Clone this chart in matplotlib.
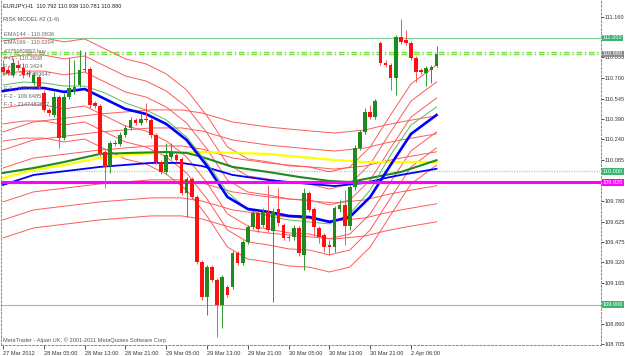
import matplotlib
matplotlib.use("Agg")
import matplotlib.pyplot as plt
import matplotlib.transforms as mtransforms
import numpy as np

plt.rcParams['font.family'] = ['Liberation Sans', 'DejaVu Sans']

# ---- data (EURJPY H1) ----
opens = [110.783, 110.760, 110.723, 110.798, 110.775, 110.730, 110.663, 110.708, 110.588, 110.461,
         110.423, 110.558, 110.251, 110.558, 110.596, 110.648, 110.760, 110.768, 110.513, 110.491,
         110.146, 110.049, 110.213, 110.206, 110.273, 110.326, 110.386, 110.363, 110.393, 110.386,
         110.273, 110.071, 109.996, 110.109, 110.124, 110.094, 109.839, 109.944, 109.809, 109.322,
         109.060, 109.285, 109.187, 109.000, 109.135, 109.135, 109.390, 109.315, 109.472, 109.584,
         109.689, 109.599, 109.697, 109.554, 109.719, 109.599, 109.509, 109.509, 109.577, 109.375,
         109.839, 109.719, 109.577, 109.524, 109.449, 109.434, 109.719, 109.749, 109.592, 109.884,
         110.176, 110.296, 110.446, 110.408, 110.963, 110.813, 110.798, 110.700, 111.007, 110.985,
         110.963, 110.850, 110.760, 110.738, 110.760, 110.792]
highs = [110.835, 110.790, 110.850, 110.835, 110.813, 110.760, 110.745, 110.723, 110.610, 110.476,
         110.596, 110.573, 110.588, 110.850, 110.835, 110.910, 110.895, 110.783, 110.528, 110.506,
         110.161, 110.228, 110.236, 110.296, 110.348, 110.408, 110.401, 110.438, 110.513, 110.401,
         110.288, 110.086, 110.213, 110.213, 110.139, 110.109, 109.959, 109.959, 109.824, 109.337,
         109.300, 109.300, 109.202, 109.225, 109.150, 109.404, 109.404, 109.487, 109.599, 109.704,
         109.704, 109.727, 109.899, 109.727, 109.876, 109.614, 109.532, 109.599, 109.592, 109.876,
         109.854, 109.734, 109.592, 109.539, 109.487, 109.742, 109.787, 109.861, 109.899, 110.199,
         110.311, 110.476, 110.498, 110.543, 110.978, 110.835, 110.813, 111.022, 111.142, 111.060,
         110.978, 110.865, 110.775, 110.790, 110.798, 110.939]
lows = [110.723, 110.723, 110.708, 110.760, 110.700, 110.708, 110.648, 110.618, 110.446, 110.416,
        110.408, 110.176, 110.236, 110.543, 110.581, 110.633, 110.745, 110.476, 110.476, 110.116,
        109.876, 109.989, 110.191, 110.191, 110.258, 110.311, 110.348, 110.348, 110.371, 110.251,
        110.056, 109.981, 109.981, 110.094, 110.071, 109.824, 109.659, 109.794, 109.307, 109.037,
        108.925, 109.172, 108.760, 108.828, 109.060, 109.120, 109.300, 109.300, 109.457, 109.569,
        109.547, 109.584, 109.547, 109.022, 109.592, 109.487, 109.479, 109.487, 109.367, 109.262,
        109.697, 109.517, 109.464, 109.397, 109.375, 109.397, 109.697, 109.449, 109.562, 109.861,
        110.161, 110.281, 110.393, 110.393, 110.798, 110.783, 110.610, 110.573, 110.955, 110.948,
        110.835, 110.670, 110.730, 110.640, 110.663, 110.781]
closes = [110.745, 110.738, 110.813, 110.775, 110.723, 110.738, 110.723, 110.633, 110.461, 110.438,
          110.558, 110.251, 110.558, 110.625, 110.633, 110.760, 110.768, 110.498, 110.491, 110.139,
          110.034, 110.213, 110.206, 110.273, 110.326, 110.386, 110.363, 110.393, 110.386, 110.273,
          110.071, 109.996, 110.124, 110.139, 110.086, 109.839, 109.944, 109.809, 109.322, 109.060,
          109.285, 109.187, 109.000, 109.210, 109.075, 109.390, 109.315, 109.472, 109.584, 109.689,
          109.569, 109.697, 109.562, 109.697, 109.614, 109.502, 109.502, 109.577, 109.390, 109.839,
          109.712, 109.584, 109.509, 109.434, 109.434, 109.727, 109.749, 109.592, 109.884, 110.176,
          110.296, 110.446, 110.408, 110.528, 110.813, 110.798, 110.700, 111.007, 110.970, 110.963,
          110.850, 110.745, 110.745, 110.775, 110.783, 110.880]

# moving averages, read at bar positions
fast_idx = [0, 4, 8, 12, 16, 20, 24, 28, 32, 36, 40, 44, 48, 52, 56, 60, 64, 68, 72, 76, 80, 85]
fast_ma = [110.603, 110.625, 110.625, 110.596, 110.618, 110.543, 110.468, 110.431, 110.356, 110.236,
           110.041, 109.809, 109.719, 109.697, 109.667, 109.659, 109.622, 109.659, 109.809, 110.049,
           110.281, 110.423]
fast2_ma = [110.648, 110.670, 110.663, 110.640, 110.640, 110.588, 110.513, 110.461, 110.386, 110.258,
            110.064, 109.846, 109.712, 109.667, 109.637, 109.622, 109.607, 109.682, 109.861, 110.124,
            110.348, 110.483]
ema144_idx = [0, 6, 12, 19, 25, 32, 36, 39, 45, 52, 58, 64, 68, 72, 78, 85]
ema144 = [109.989, 110.026, 110.071, 110.131, 110.139, 110.146, 110.139, 110.109, 110.034, 109.996,
          109.959, 109.929, 109.921, 109.951, 109.996, 110.084]
ema169_idx = [0, 6, 19, 29, 35, 39, 45, 52, 58, 65, 71, 75, 78, 85]
ema169 = [109.899, 109.974, 110.034, 110.064, 110.064, 110.041, 109.974, 109.936, 109.914, 109.891,
          109.914, 109.951, 109.974, 110.020]
yellow_idx = [0, 6, 12, 19, 26, 32, 39, 45, 52, 58, 65, 71, 78, 85]
yellow_ma = [109.951, 110.011, 110.049, 110.101, 110.131, 110.139, 110.146, 110.139, 110.131, 110.109,
             110.086, 110.071, 110.071, 110.071]

# red envelope lines around the fast average (same bar positions as fast_idx)
fast_env = [
    [110.978, 111.000, 111.000, 110.971, 110.993, 110.918, 110.843, 110.806, 110.731, 110.611, 110.416,
     110.184, 110.094, 110.072, 110.042, 110.034, 109.997, 110.034, 110.184, 110.424, 110.656, 110.798],
    [110.850, 110.872, 110.872, 110.843, 110.865, 110.790, 110.715, 110.678, 110.603, 110.483, 110.288,
     110.056, 109.966, 109.944, 109.914, 109.906, 109.869, 109.906, 110.056, 110.296, 110.528, 110.670],
    [110.730, 110.752, 110.752, 110.723, 110.745, 110.670, 110.595, 110.558, 110.483, 110.363, 110.168,
     109.936, 109.846, 109.824, 109.794, 109.786, 109.749, 109.786, 109.936, 110.176, 110.408, 110.550],
    [110.476, 110.498, 110.498, 110.469, 110.491, 110.416, 110.341, 110.304, 110.229, 110.109, 109.914,
     109.682, 109.592, 109.570, 109.540, 109.532, 109.495, 109.532, 109.682, 109.922, 110.154, 110.296],
    [110.356, 110.378, 110.378, 110.349, 110.371, 110.296, 110.221, 110.184, 110.109, 109.989, 109.794,
     109.562, 109.472, 109.450, 109.420, 109.412, 109.375, 109.412, 109.562, 109.802, 110.034, 110.176],
    [110.228, 110.250, 110.250, 110.221, 110.243, 110.168, 110.093, 110.056, 109.981, 109.861, 109.666,
     109.434, 109.344, 109.322, 109.292, 109.284, 109.247, 109.284, 109.434, 109.674, 109.906, 110.048],
]
# red envelope lines around the slow average (same bar positions as ema169_idx)
slow_env = [
    [110.296, 110.371, 110.431, 110.461, 110.461, 110.438, 110.371, 110.333, 110.311, 110.288, 110.311,
     110.348, 110.371, 110.417],
    [110.161, 110.236, 110.296, 110.326, 110.326, 110.303, 110.236, 110.198, 110.176, 110.153, 110.176,
     110.213, 110.236, 110.282],
    [110.026, 110.101, 110.161, 110.191, 110.191, 110.168, 110.101, 110.063, 110.041, 110.018, 110.041,
     110.078, 110.101, 110.147],
    [109.772, 109.847, 109.907, 109.937, 109.937, 109.914, 109.847, 109.809, 109.787, 109.764, 109.787,
     109.824, 109.847, 109.893],
    [109.637, 109.712, 109.772, 109.802, 109.802, 109.779, 109.712, 109.674, 109.652, 109.629, 109.652,
     109.689, 109.712, 109.758],
    [109.502, 109.577, 109.637, 109.667, 109.667, 109.644, 109.577, 109.539, 109.517, 109.494, 109.517,
     109.554, 109.577, 109.623],
]

level_lines = [111.000, 109.000]
level_dotted = 110.000
magenta_level = 109.920
dashdot_levels = [110.897, 110.878]
bid = 110.880

price_ticks = [111.160, 110.855, 110.700, 110.545, 110.390, 110.240, 110.085, 109.780, 109.625,
               109.475, 109.320, 109.165, 108.860, 108.705]
time_ticks = [0, 8, 16, 24, 32, 40, 48, 56, 64, 72, 80]
time_labels = ["27 Mar 2012", "28 Mar 05:00", "28 Mar 13:00", "28 Mar 21:00", "29 Mar 05:00",
               "29 Mar 13:00", "29 Mar 21:00", "30 Mar 05:00", "30 Mar 13:00", "30 Mar 21:00",
               "2 Apr 06:00"]
legend_lines = ["EMA144 - 110.0836", "EMA169 - 110.0204", "#275083852 buy",
                "F+1 - 110.2638", "F+2 - 110.3424", "F+3 - 2147483647",
                "F-1 - 109.4839", "F-2 - 109.6485", "F-3 - 2147483647"]

W, H = 625, 356
FS = 4.1
fig = plt.figure(figsize=(W / 100, H / 100), dpi=100)
ax = fig.add_axes([1.5 / W, 11 / H, 599.5 / W, 344 / H])
ax.set_xlim(-0.294, 117.25)
ax.set_ylim(108.700, 111.277)

# horizontal levels
for lv in level_lines:
    ax.axhline(lv, color='#7fcf98', lw=0.8, zorder=1)
ax.axhline(level_dotted, color='#9fd8b0', lw=0.9, ls=(0, (1, 1)), zorder=1)
for lv in dashdot_levels:
    ax.axhline(lv, color='#77dd44', lw=1.0, ls=(0, (4, 2, 1, 2)), zorder=1)

# envelopes
for env in fast_env:
    ax.plot(fast_idx, env, color='#ff5a5a', lw=0.7, zorder=2)
for env in slow_env:
    ax.plot(ema169_idx, env, color='#ff5a5a', lw=0.7, zorder=2)

ax.axhline(magenta_level, color='#ff00ff', lw=2.2, zorder=4)

# moving averages
ax.plot(yellow_idx, yellow_ma, color='#ffff00', lw=1.6, zorder=3)
ax.plot(ema144_idx, ema144, color='#1f8a1f', lw=1.5, zorder=3)
ax.plot(ema169_idx, ema169, color='#0000ff', lw=1.3, zorder=3)
ax.plot(fast_idx, fast2_ma, color='#5cb85c', lw=0.7, zorder=3)
ax.plot(fast_idx, fast_ma, color='#0000ff', lw=1.9, zorder=3)

# candles
o = np.array(opens); c = np.array(closes)
idx = np.arange(len(o))
up = c >= o
col = np.where(up, '#1f8a1f', '#ff1010')
wick = np.where(up, '#2f9a2f', '#ff5050')
ax.vlines(idx, lows, highs, colors=wick, lw=0.7, zorder=5)
body = np.maximum(np.abs(c - o), 0.006)
ax.bar(idx, body, bottom=np.minimum(o, c), width=0.72, color=col, lw=0, zorder=6)

# frame and axes
for s in ['left', 'right', 'bottom']:
    ax.spines[s].set_linestyle((0, (2, 2)))
    ax.spines[s].set_color('#888888')
    ax.spines[s].set_linewidth(0.7)
ax.spines['top'].set_visible(False)
ax.yaxis.tick_right()
ax.set_yticks(price_ticks)
ax.set_yticklabels(['%.3f' % p for p in price_ticks])
ax.tick_params(axis='y', length=2, width=0.6, pad=0.8, labelsize=FS, colors='#333333')
ax.set_xticks(time_ticks)
ax.set_xticklabels(time_labels)
ax.tick_params(axis='x', length=3, width=0.6, pad=1.5, labelsize=FS, colors='#333333')
for lab in ax.get_xticklabels():
    lab.set_ha('left')

tr = mtransforms.blended_transform_factory(ax.transAxes, ax.transData)
boxes = [(111.000, '#3cb371'), (bid, '#8c8c8c'), (110.000, '#3cb371'),
         (magenta_level, '#ff00ff'), (109.000, '#3cb371')]
for val, bg in boxes:
    ax.text(1.003, val, '%.3f' % val, transform=tr, fontsize=FS, color='white', va='center',
            ha='left', bbox=dict(fc=bg, ec='none', pad=0.7), zorder=10, clip_on=False)

# texts
fig.text(3 / W, 1 - 6 / H, "EURJPY,H1  110.792 110.939 110.781 110.880", fontsize=FS, color='#222222', va='center')
fig.text(3 / W, 1 - 20 / H, "RISK MODEL #2 (1-4)", fontsize=FS, color='#555555', va='center')
ys = [35, 43, 51, 59, 66, 74, 89, 97, 104]
for t, yy in zip(legend_lines, ys):
    fig.text(4 / W, 1 - yy / H, t, fontsize=FS, color='#666666', va='center')
fig.text(3 / W, 1 - 340 / H, "MetaTrader - Alpari UK, \u00a9 2001-2011 MetaQuotes Software Corp.",
         fontsize=FS, color='#555555', va='center')

fig.savefig('out.png', dpi=100)
